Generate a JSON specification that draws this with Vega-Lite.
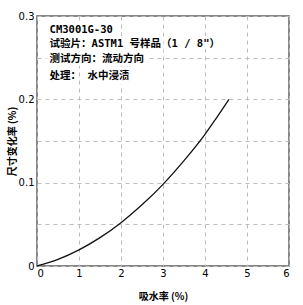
{
  "$schema": "https://vega.github.io/schema/vega-lite/v6.json",
  "width": 252,
  "height": 250,
  "autosize": {"type": "none"},
  "padding": {"left": 37, "top": 16, "right": 14, "bottom": 39},
  "config": {
    "view": {"stroke": "#606060", "strokeWidth": 1.5},
    "font": "Noto Sans CJK SC",
    "axis": {
      "domain": false,
      "grid": true,
      "gridColor": "#bdbdbd",
      "gridDash": [4, 4],
      "gridWidth": 1,
      "gridOpacity": 1,
      "tickSize": 0,
      "labelColor": "#000000",
      "labelFont": "DejaVu Sans",
      "labelFontSize": 10,
      "titleColor": "#000000",
      "titleFont": "Noto Sans CJK SC",
      "titleFontSize": 10,
      "titleFontWeight": "bold"
    }
  },
  "datasets": {
    "curve": [
      {"x": 0, "y": 0},
      {"x": 0.5, "y": 0.0079},
      {"x": 1, "y": 0.0193},
      {"x": 1.5, "y": 0.034},
      {"x": 2, "y": 0.052},
      {"x": 2.5, "y": 0.0734},
      {"x": 3, "y": 0.098},
      {"x": 3.5, "y": 0.1264},
      {"x": 4, "y": 0.158},
      {"x": 4.25, "y": 0.176},
      {"x": 4.57, "y": 0.2}
    ],
    "notes": [
      {"x": 0.3, "y": 0.2838, "label": "CM3001G-30"},
      {"x": 0.3, "y": 0.2664, "label": "试验片：ASTM1 号样品（1 / 8\"）"},
      {"x": 0.3, "y": 0.2484, "label": "测试方向：流动方向"},
      {"x": 0.3, "y": 0.2286, "label": "处理： 水中浸渍"}
    ]
  },
  "encoding": {
    "x": {
      "field": "x", "type": "quantitative",
      "scale": {"domain": [0, 6], "nice": false},
      "axis": {"grid": true, "values": [0, 1, 2, 3, 4, 5, 6], "title": "吸水率 (%)", "titleY": 30, "titleBaseline": "middle", "labelPadding": 2}
    },
    "y": {
      "field": "y", "type": "quantitative",
      "scale": {"domain": [0, 0.3], "nice": false},
      "axis": {
        "grid": true,
        "values": [0, 0.05, 0.1, 0.15, 0.2, 0.25, 0.3],
        "labelExpr": "round(datum.value*20) % 2 == 0 ? format(datum.value, '~g') : ''",
        "title": "尺寸变化率 (%)",
        "titleX": -25,
        "titleBaseline": "middle",
        "labelPadding": 3
      }
    }
  },
  "layer": [
    {
      "data": {"name": "curve"},
      "mark": {"type": "line", "color": "#111111", "strokeWidth": 1.3, "interpolate": "monotone"}
    },
    {
      "data": {"name": "notes"},
      "mark": {"type": "text", "align": "left", "baseline": "middle", "font": "DejaVu Sans Mono, Noto Sans CJK SC", "fontSize": 10.5, "fontWeight": "bold", "stroke": "white", "strokeWidth": 6, "color": "white"},
      "encoding": {"text": {"field": "label"}}
    },
    {
      "data": {"name": "notes"},
      "mark": {"type": "text", "align": "left", "baseline": "middle", "font": "DejaVu Sans Mono, Noto Sans CJK SC", "fontSize": 10.5, "fontWeight": "bold", "color": "#000000"},
      "encoding": {"text": {"field": "label"}}
    }
  ]
}
